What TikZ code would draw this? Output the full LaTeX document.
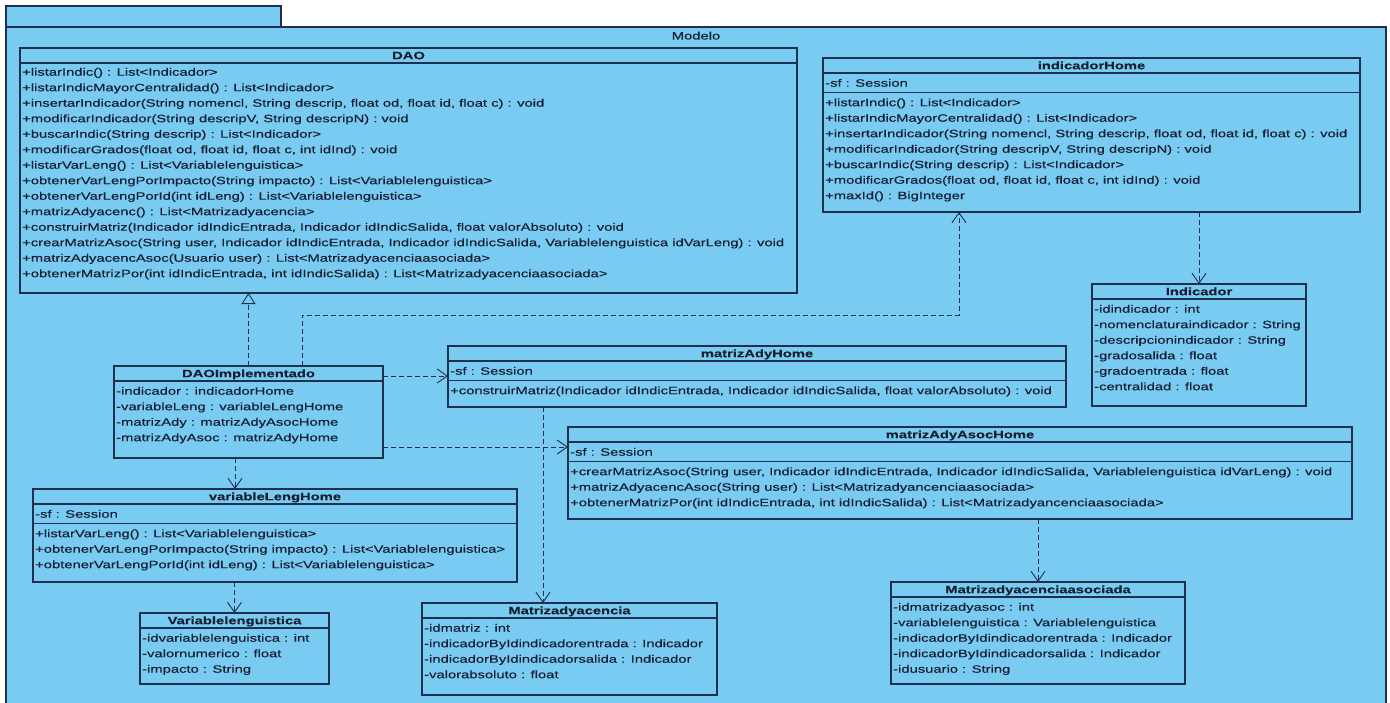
\documentclass[tikz,border=0pt]{standalone}
\usepackage{fontspec}
\setmainfont{Liberation Sans}[FakeStretch=1.38,FakeBold=0.35]
\usetikzlibrary{arrows.meta}
\definecolor{bg}{RGB}{121,203,241}
\definecolor{ln}{RGB}{30,48,78}
\definecolor{tx}{RGB}{22,32,50}
\tikzset{
  box/.style={draw=ln, line width=1.1pt, fill=bg, inner sep=0, outer sep=0},
  pkg/.style={draw=ln, line width=1.2pt, fill=bg, inner sep=0, outer sep=0},
  txt/.style={anchor=base west, inner sep=0, text=tx, font=\fontsize{10.7}{12}\selectfont},
  ttl/.style={anchor=base, inner sep=0, text=tx, font=\fontsize{10.7}{12}\selectfont\bfseries},
  lbl/.style={anchor=base, inner sep=0, text=tx, font=\fontsize{10.7}{12}\selectfont},
  sepline/.style={draw=ln, line width=1.1pt},
  dep/.style={draw=ln, line width=0.9pt, dash pattern=on 5pt off 3pt, -{Straight Barb[length=10pt,width=14pt]}},
  real/.style={draw=ln, line width=0.9pt, dash pattern=on 5pt off 3pt, -{Triangle[open,length=11pt,width=14pt]}},
}
\newcommand\cbox[6][box]{\node[#1, minimum width={(#5-#3)*1pt}, minimum height={(#6-#4)*1pt}] (#2) at ({(#3+#5)/2},{(#4+#6)/2}) {};}
\newcommand\csep[2]{\draw[sepline] ([yshift=-#2pt]#1.north west) -- ([yshift=-#2pt]#1.north east);}
\newcommand\crow[4]{\node[txt] (#1) at (#2,{#3+3.7}) {#4};}
\newcommand\ctitle[3]{\node[ttl] (#1t) at ([yshift=-11.2pt]#2.north) {#3};}
\begin{document}
\begin{tikzpicture}[x=1pt,y=-1pt]
\useasboundingbox (0,0) rectangle (1390,702);
\fill[white] (0,0) rectangle (1390,702);
% package
\cbox[pkg]{tab}{6}{6}{281}{27}
\cbox[pkg]{pkgbody}{6}{27}{1386}{712}
\node[lbl] (modelo) at ([yshift=-12.5pt]pkgbody.north) {Modelo};

% DAO
\cbox{dao}{20}{48}{797}{293}
\ctitle{dao}{dao}{DAO}
\csep{dao}{15}
\crow{dao1}{22}{72}{+listarIndic() : List<Indicador>}
\crow{dao2}{22}{87.5}{+listarIndicMayorCentralidad() : List<Indicador>}
\crow{dao3}{22}{103}{+insertarIndicador(String nomencl, String descrip, float od, float id, float c) : void}
\crow{dao4}{22}{118.5}{+modificarIndicador(String descripV, String descripN) : void}
\crow{dao5}{22}{134}{+buscarIndic(String descrip) : List<Indicador>}
\crow{dao6}{22}{149.5}{+modificarGrados(float od, float id, float c, int idInd) : void}
\crow{dao7}{22}{165}{+listarVarLeng() : List<Variablelenguistica>}
\crow{dao8}{22}{180.5}{+obtenerVarLengPorImpacto(String impacto) : List<Variablelenguistica>}
\crow{dao9}{22}{196}{+obtenerVarLengPorId(int idLeng) : List<Variablelenguistica>}
\crow{dao10}{22}{211.5}{+matrizAdyacenc() : List<Matrizadyacencia>}
\crow{dao11}{22}{227}{+construirMatriz(Indicador idIndicEntrada, Indicador idIndicSalida, float valorAbsoluto) : void}
\crow{dao12}{22}{242.5}{+crearMatrizAsoc(String user, Indicador idIndicEntrada, Indicador idIndicSalida, Variablelenguistica idVarLeng) : void}
\crow{dao13}{22}{258}{+matrizAdyacencAsoc(Usuario user) : List<Matrizadyacenciaasociada>}
\crow{dao14}{22}{273.5}{+obtenerMatrizPor(int idIndicEntrada, int idIndicSalida) : List<Matrizadyacenciaasociada>}

% indicadorHome
\cbox{ih}{823}{58}{1360}{212}
\ctitle{ih}{ih}{indicadorHome}
\csep{ih}{15}
\crow{ih0}{825}{83}{-sf : Session}
\csep{ih}{34.5}
\crow{ih1}{825}{102.5}{+listarIndic() : List<Indicador>}
\crow{ih2}{825}{118}{+listarIndicMayorCentralidad() : List<Indicador>}
\crow{ih3}{825}{133.5}{+insertarIndicador(String nomencl, String descrip, float od, float id, float c) : void}
\crow{ih4}{825}{149}{+modificarIndicador(String descripV, String descripN) : void}
\crow{ih5}{825}{164.5}{+buscarIndic(String descrip) : List<Indicador>}
\crow{ih6}{825}{180}{+modificarGrados(float od, float id, float c, int idInd) : void}
\crow{ih7}{825}{195.5}{+maxId() : BigInteger}

% Indicador
\cbox{ind}{1092}{284}{1306}{406}
\ctitle{ind}{ind}{Indicador}
\csep{ind}{15}
\crow{ind1}{1094}{309}{-idindicador : int}
\crow{ind2}{1094}{324.5}{-nomenclaturaindicador : String}
\crow{ind3}{1094}{340}{-descripcionindicador : String}
\crow{ind4}{1094}{355.5}{-gradosalida : float}
\crow{ind5}{1094}{371}{-gradoentrada : float}
\crow{ind6}{1094}{386.5}{-centralidad : float}

% DAOImplementado
\cbox{impl}{114}{366}{383}{458}
\ctitle{impl}{impl}{DAOImplementado}
\csep{impl}{15}
\crow{impl1}{116}{391}{-indicador : indicadorHome}
\crow{impl2}{116}{406.5}{-variableLeng : variableLengHome}
\crow{impl3}{116}{422}{-matrizAdy : matrizAdyAsocHome}
\crow{impl4}{116}{437.5}{-matrizAdyAsoc : matrizAdyHome}

% matrizAdyHome
\cbox{mah}{448}{346}{1066}{407}
\ctitle{mah}{mah}{matrizAdyHome}
\csep{mah}{15}
\crow{mah0}{450}{371}{-sf : Session}
\csep{mah}{34.5}
\crow{mah1}{450}{390.5}{+construirMatriz(Indicador idIndicEntrada, Indicador idIndicSalida, float valorAbsoluto) : void}

% matrizAdyAsocHome
\cbox{maah}{568}{427}{1352}{519}
\ctitle{maah}{maah}{matrizAdyAsocHome}
\csep{maah}{15}
\crow{maah0}{570}{452}{-sf : Session}
\csep{maah}{34.5}
\crow{maah1}{570}{471.5}{+crearMatrizAsoc(String user, Indicador idIndicEntrada, Indicador idIndicSalida, Variablelenguistica idVarLeng) : void}
\crow{maah2}{570}{487}{+matrizAdyacencAsoc(String user) : List<Matrizadyancenciaasociada>}
\crow{maah3}{570}{502.5}{+obtenerMatrizPor(int idIndicEntrada, int idIndicSalida) : List<Matrizadyancenciaasociada>}

% variableLengHome
\cbox{vlh}{33}{489}{517}{582}
\ctitle{vlh}{vlh}{variableLengHome}
\csep{vlh}{15}
\crow{vlh0}{35}{514}{-sf : Session}
\csep{vlh}{34.5}
\crow{vlh1}{35}{533.5}{+listarVarLeng() : List<Variablelenguistica>}
\crow{vlh2}{35}{549}{+obtenerVarLengPorImpacto(String impacto) : List<Variablelenguistica>}
\crow{vlh3}{35}{564.5}{+obtenerVarLengPorId(int idLeng) : List<Variablelenguistica>}

% Variablelenguistica
\cbox{vl}{140}{613}{329}{684}
\ctitle{vl}{vl}{Variablelenguistica}
\csep{vl}{15}
\crow{vl1}{142}{638}{-idvariablelenguistica : int}
\crow{vl2}{142}{653.5}{-valornumerico : float}
\crow{vl3}{142}{669}{-impacto : String}

% Matrizadyacencia
\cbox{mad}{422}{603}{717}{695}
\ctitle{mad}{mad}{Matrizadyacencia}
\csep{mad}{15}
\crow{mad1}{424}{628}{-idmatriz : int}
\crow{mad2}{424}{643.5}{-indicadorByIdindicadorentrada : Indicador}
\crow{mad3}{424}{659}{-indicadorByIdindicadorsalida : Indicador}
\crow{mad4}{424}{674.5}{-valorabsoluto : float}

% Matrizadyacenciaasociada
\cbox{mada}{891}{582}{1185}{684}
\ctitle{mada}{mada}{Matrizadyacenciaasociada}
\csep{mada}{15}
\crow{mada1}{893}{607}{-idmatrizadyasoc : int}
\crow{mada2}{893}{622.5}{-variablelenguistica : Variablelenguistica}
\crow{mada3}{893}{638}{-indicadorByIdindicadorentrada : Indicador}
\crow{mada4}{893}{653.5}{-indicadorByIdindicadorsalida : Indicador}
\crow{mada5}{893}{669}{-idusuario : String}

% connectors
\draw[real] (impl.north) -- (impl.north |- dao.south);
\draw[dep] ([xshift=188pt]impl.north west) |- (959,315) -- ([xshift=136pt]ih.south west);
\draw[dep] ([yshift=-10pt]impl.north east) -- ([yshift=-10pt]impl.north east -| mah.west);
\draw[dep] ([yshift=11pt]impl.south east) -- ([yshift=11pt]impl.south east -| maah.west);
\draw[dep] ([xshift=121pt]impl.south west) -- ([xshift=121pt]impl.south west |- vlh.north);
\draw[dep] (vlh.south -| vl.north) -- (vl.north);
\draw[dep] ([xshift=95pt]mah.south west) -- ([xshift=95pt]mah.south west |- mad.north);
\draw[dep] (maah.south -| mada.north) -- (mada.north);
\draw[dep] (ih.south -| ind.north) -- (ind.north);
\end{tikzpicture}
\end{document}
